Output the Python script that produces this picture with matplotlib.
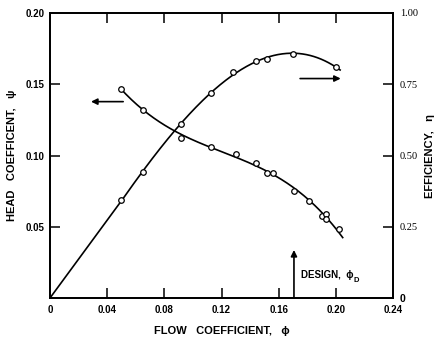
import numpy as np
import matplotlib.pyplot as plt

# ------------------------------------------------------------
# measured data — flow coefficient vs head coefficient / efficiency
# ------------------------------------------------------------
phi_head = [0.050, 0.065, 0.092, 0.113, 0.130, 0.144, 0.152, 0.156,
            0.171, 0.181, 0.190, 0.193, 0.193, 0.202]
psi_head = [0.147, 0.132, 0.112, 0.106, 0.101, 0.0945, 0.088, 0.0875,
            0.0753, 0.0683, 0.0578, 0.0587, 0.0554, 0.0484]

phi_eff = [0.050, 0.065, 0.092, 0.113, 0.128, 0.144, 0.152, 0.170, 0.200]
eta_eff = [0.343, 0.443, 0.612, 0.719, 0.794, 0.830, 0.839, 0.856, 0.812]

phi_design = 0.1707

x_ticks = [0, 0.04, 0.08, 0.12, 0.16, 0.20, 0.24]
x_labels = ['0', '0.04', '0.08', '0.12', '0.16', '0.20', '0.24']
psi_ticks = [0.05, 0.10, 0.15, 0.20]
psi_labels = ['0.05', '0.10', '0.15', '0.20']
eta_ticks = [0, 0.25, 0.50, 0.75, 1.00]
eta_labels = ['0', '0.25', '0.50', '0.75', '1.00']

sans = ['Liberation Sans', 'DejaVu Sans']
serif = ['Liberation Serif', 'DejaVu Serif']
plt.rcParams['font.family'] = sans

# ------------------------------------------------------------
# faired curves through the test points
# ------------------------------------------------------------
c_head = np.polyfit(phi_head, psi_head, 3)
phi_h = np.linspace(phi_head[0], 0.2048, 200)
psi_h = np.polyval(c_head, phi_h)

# efficiency: cubic fair through the points, straight run in from the origin
c_eff = np.polyfit(phi_eff, eta_eff, 3)
phi_e = np.linspace(phi_eff[0], 0.203, 300)
eta_e = np.polyval(c_eff, phi_e)
phi_e = np.concatenate([[0.0], phi_e])
eta_e = np.concatenate([[0.0], eta_e])

# ------------------------------------------------------------
# plot
# ------------------------------------------------------------
fig = plt.figure(figsize=(4.41, 3.46), dpi=100)
ax = fig.add_axes([50 / 441, 48 / 346, 343 / 441, 285 / 346])
ax2 = ax.twinx()

ax.plot(phi_h, psi_h, color='black', lw=1.2)
ax.plot(phi_head, psi_head, 'o', ms=4, mfc='white', mec='black', mew=0.9)
ax2.plot(phi_e, eta_e, color='black', lw=1.2)
ax2.plot(phi_eff, eta_eff, 'o', ms=4, mfc='white', mec='black', mew=0.9)

ax.set_xlim(0, 0.24)
ax.set_ylim(0, 0.20)
ax2.set_ylim(0, 1.0)

for a in (ax, ax2):
    for s in a.spines.values():
        s.set_linewidth(1.3)

ax.set_xticks(x_ticks)
ax.set_xticklabels(x_labels, fontsize=7, fontweight='bold')
ax.set_yticks(psi_ticks)
ax.set_yticklabels(psi_labels, fontsize=7, fontweight='bold')
ax.tick_params(axis='x', direction='in', length=7, width=1.1, top=True, pad=5)
ax.tick_params(axis='y', direction='in', length=7, width=1.1, pad=4)
for t in ax.xaxis.get_major_ticks():
    if t.get_loc() in (0, 0.24):
        t.tick1line.set_visible(False)
        t.tick2line.set_visible(False)
ax.yaxis.get_major_ticks()[-1].tick1line.set_visible(False)

ax2.set_yticks(eta_ticks)
ax2.set_yticklabels(eta_labels, fontsize=7.5)
ax2.tick_params(axis='y', direction='in', length=7, width=1.1, pad=5)
for lab in ax2.get_yticklabels():
    lab.set_family(sans if lab.get_text() == '0' else serif)
    if lab.get_text() == '0':
        lab.set_fontweight('bold')
for t in ax2.yaxis.get_major_ticks():
    if t.get_loc() in (0, 1.0):
        t.tick2line.set_visible(False)

ax.set_xlabel('FLOW   COEFFICIENT,   ϕ', fontsize=8, fontweight='bold', labelpad=8)
ax.set_ylabel('HEAD   COEFFICENT,   ψ', fontsize=8, fontweight='bold', labelpad=6)
ax2.set_ylabel('EFFICIENCY,   η', fontsize=8, fontweight='bold', labelpad=5)

# arrows pointing to each curve's axis
ax.annotate('', xy=(0.0287, 0.1378), xytext=(0.0512, 0.1378),
            arrowprops=dict(arrowstyle='-|>', color='black', lw=1.2,
                            mutation_scale=9, shrinkA=0, shrinkB=0))
ax2.annotate('', xy=(0.2034, 0.770), xytext=(0.175, 0.770),
             arrowprops=dict(arrowstyle='-|>', color='black', lw=1.2,
                             mutation_scale=9, shrinkA=0, shrinkB=0))

# design point marker
ax.annotate('', xy=(phi_design, 0.0337), xytext=(phi_design, 0.0),
            arrowprops=dict(arrowstyle='-|>', color='black', lw=1.2,
                            mutation_scale=9, shrinkA=0, shrinkB=0))
ax.text(0.1756, 0.0161, 'DESIGN,  ϕ', fontsize=7, fontweight='bold',
        va='center', ha='left')
ax.text(0.2125, 0.0125, 'D', fontsize=5.5, fontweight='bold',
        va='center', ha='left')

plt.savefig('out.png', dpi=100)
